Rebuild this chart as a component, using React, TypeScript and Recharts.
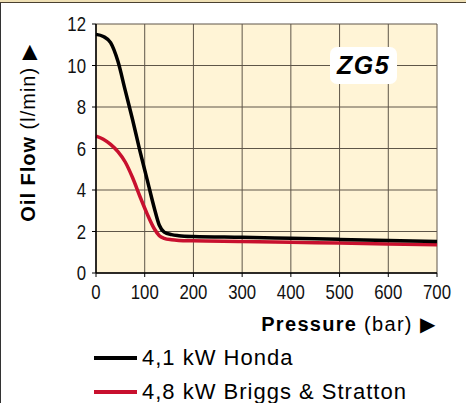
import React from 'react';
import { LineChart, Line, XAxis, YAxis, CartesianGrid } from 'recharts';

const pressure = [0, 15, 30, 45, 60, 75, 90, 105, 120, 130, 140, 155, 170, 200, 300, 400, 500, 600, 700];
const honda = [11.5, 11.4, 11.1, 10.2, 8.8, 7.4, 5.9, 4.5, 3.1, 2.3, 1.97, 1.85, 1.8, 1.76, 1.72, 1.67, 1.62, 1.57, 1.52];
const briggs = [6.6, 6.45, 6.2, 5.85, 5.35, 4.6, 3.7, 2.85, 2.12, 1.8, 1.67, 1.6, 1.57, 1.55, 1.52, 1.48, 1.44, 1.4, 1.36];
const xTicks = [0, 100, 200, 300, 400, 500, 600, 700];
const yTicks = [0, 2, 4, 6, 8, 10, 12];
const seriesNames = ['4,1 kW Honda', '4,8 kW Briggs & Stratton'];
const seriesColors = ['#000000', '#c8102e'];

const data = pressure.map((p, i) => ({ p, honda: honda[i], briggs: briggs[i] }));

const font = '"Liberation Sans", Arial, Helvetica, sans-serif';

// narrow-looking tick labels (the original uses a condensed Helvetica)
const NarrowTick = (props: any) => {
  const { x, y, payload, textAnchor, dy } = props;
  return (
    <text
      x={0}
      y={0}
      dy={dy}
      textAnchor={textAnchor}
      transform={`translate(${x},${y}) scale(0.84,1)`}
      fontFamily={font}
      fontSize={20}
      fill='#111'
    >
      {payload.value}
    </text>
  );
};

const XTick = (props: any) => <NarrowTick {...props} dy='0.71em' />;
const YTick = (props: any) => <NarrowTick {...props} dy='0.355em' />;

const App = () => {
  return (
    <div style={{ position: 'absolute', left: 0, top: 0, width: 466, height: 403, background: '#fff', overflow: 'hidden', fontFamily: font }}>
      {/* frame */}
      <div style={{ position: 'absolute', left: 0, top: 0, width: 466, height: 2, background: '#efe0b5', borderBottom: '1px solid #4a4030' }} />
      <div style={{ position: 'absolute', left: 0, top: 3, width: 1, height: 400, background: '#333' }} />

      <LineChart width={466} height={403} data={data} margin={{ top: 24, right: 29, left: 56, bottom: 100 }}>
        <CartesianGrid fill='#fff4d6' stroke='#5e5548' strokeWidth={1} horizontalValues={yTicks} verticalValues={xTicks} />
        <XAxis
          dataKey='p'
          type='number'
          domain={[0, 700]}
          ticks={xTicks}
          height={30}
          tick={<XTick />}
          tickSize={4}
          tickMargin={8}
          stroke='#000'
          axisLine={{ stroke: '#000', strokeWidth: 1.5 }}
        />
        <YAxis
          type='number'
          domain={[0, 12]}
          ticks={yTicks}
          width={40}
          tick={<YTick />}
          tickSize={4}
          tickMargin={6}
          stroke='#000'
          axisLine={{ stroke: '#000', strokeWidth: 1.5 }}
        />
        <Line type='monotone' dataKey='briggs' stroke={seriesColors[1]} strokeWidth={3.5} dot={false} isAnimationActive={false} />
        <Line type='monotone' dataKey='honda' stroke={seriesColors[0]} strokeWidth={3.5} dot={false} isAnimationActive={false} />
      </LineChart>

      {/* ZG5 badge */}
      <div style={{ position: 'absolute', left: 330, top: 47, width: 67, height: 37, background: '#fff', borderRadius: 7, display: 'flex', alignItems: 'center', justifyContent: 'center', fontWeight: 'bold', fontStyle: 'italic', fontSize: 25, letterSpacing: 1.5, color: '#000' }}>
        ZG5
      </div>

      {/* y-axis title */}
      <div style={{ position: 'absolute', left: 28, top: 133, transform: 'translate(-50%, -50%) rotate(-90deg)', whiteSpace: 'nowrap', fontSize: 20, letterSpacing: 1, color: '#000' }}>
        <b>Oil Flow</b> (l/min) ▶
      </div>

      {/* x-axis title */}
      <div style={{ position: 'absolute', right: 466 - 436, top: 312, whiteSpace: 'nowrap', fontSize: 20, letterSpacing: 1.3, color: '#000' }}>
        <b>Pressure</b> (bar) ▶
      </div>

      {/* legend */}
      {seriesNames.map((name, i) => (
        <div key={name} style={{ position: 'absolute', left: 94, top: 345 + i * 34, display: 'flex', alignItems: 'center', whiteSpace: 'nowrap', fontSize: 22, letterSpacing: 1, color: '#000' }}>
          <span style={{ display: 'inline-block', width: 43, height: 3.5, background: seriesColors[i], marginRight: 5 }} />
          {name}
        </div>
      ))}
    </div>
  );
};

export default App;
